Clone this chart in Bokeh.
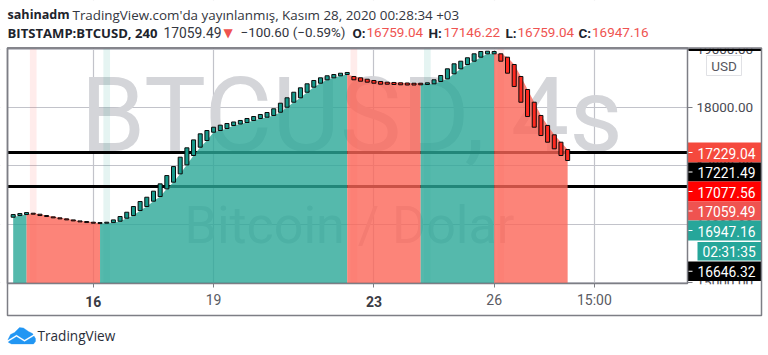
from bokeh.plotting import figure
from bokeh.models import Label, BoxAnnotation, PolyAnnotation, FixedTicker, LinearAxis, Grid
from bokeh.embed import file_html
from bokeh.resources import INLINE

# ---------- data ----------
candle_index = list(range(84))
opens = [16117,16146,16163,16186,16169,16146,16123,16106,16089,16071,16054,16043,16031,16008,16014,16025,
         16048,16100,16146,16232,16301,16393,16473,16605,16720,16863,17018,17179,17322,17437,17580,17609,
         17644,17695,17721,17747,17782,17816,17838,17868,17924,18010,18096,18172,18268,18355,18423,18482,
         18516,18551,18573,18539,18516,18492,18470,18453,18441,18436,18430,18427,18423,18423,18401,18413,
         18453,18499,18585,18671,18745,18802,18871,18929,18929,18929,18871,18745,18539,18315,18096,17868,
         17696,17535,17408,17282]
closes = [16163,16180,16197,16169,16146,16129,16106,16089,16071,16054,16037,16025,16014,16025,16031,16071,
          16129,16203,16301,16387,16461,16565,16691,16834,16989,17150,17311,17448,17552,17609,17666,17701,
          17730,17756,17782,17816,17850,17885,17919,17983,18079,18172,18268,18344,18413,18470,18516,18551,
          18573,18595,18608,18482,18458,18441,18423,18406,18406,18401,18396,18392,18392,18396,18430,18482,
          18556,18671,18757,18802,18861,18929,18969,18974,18969,18802,18596,18367,18096,17850,17666,17523,
          17408,17294,17179,17093]
area_breaks = [0, 2, 13, 50, 61, 72, 83]
area_kinds = ["up", "down", "up", "down", "up", "down"]
pale_bands = [3, 14, 51, 62, 73]
pale_kinds = ["down", "up", "down", "up", "down"]
black_levels = [17229.04, 16646.32]
price_ticks = [15000, 16000, 17000, 18000, 19000]
time_ticks = [12, 30, 54, 72, 87]
time_labels = ["16", "19", "23", "26", "15:00"]
bold_time = ["16", "23"]
price_tags = ["17229.04", "17221.49", "17077.56", "17059.49", "16947.16", "02:31:35", "16646.32"]
tag_colors = ["#f5493d", "#000000", "#ff0000", "#ef5350", "#26a69a", "#26a69a", "#000000"]
tag_tops = [142, 162, 181, 201, 220, 241.5, 261]
tag_bottoms = [162, 181, 201, 220, 240, 260, 280.5]

# ---------- layout ----------
W, H = 764, 350
XL, XR = -1.901, 112.47        # scale spans the whole canvas
YB, YT = 13823.2, 19846.7
X0, X1 = -0.85, 100.94         # chart pane
Y0, Y1 = 14976.3, 19020.6
def sx(x): return x
def sy(y): return H - y

p = figure(width=W, height=H, output_backend="svg", toolbar_location=None,
           x_range=(XL, XR), y_range=(YB, YT), x_axis_type=None, y_axis_type=None,
           min_border_left=0, min_border_right=0, min_border_top=0, min_border_bottom=0)
p.outline_line_color = None

p.add_layout(Grid(dimension=0, ticker=FixedTicker(ticks=time_ticks), grid_line_color="#c2c3ca", grid_line_width=1.2))
p.add_layout(Grid(dimension=1, ticker=FixedTicker(ticks=price_ticks), grid_line_color="#c2c3ca", grid_line_width=1.2))

xa = LinearAxis(ticker=FixedTicker(ticks=time_ticks), fixed_location=Y0, bounds=(X0, X1))
xa.major_label_overrides = {t: ("" if l in bold_time else l) for t, l in zip(time_ticks, time_labels)}
xa.major_label_text_font = "Roboto"
xa.major_label_text_font_size = "14px"
xa.major_label_text_color = "#5a5b63"
xa.major_label_standoff = 5
xa.major_tick_in = 0
xa.major_tick_out = 4
xa.minor_tick_line_color = None
xa.axis_line_color = "#7d7e85"
xa.major_tick_line_color = "#7d7e85"
p.add_layout(xa, "below")

ya = LinearAxis(ticker=FixedTicker(ticks=price_ticks), fixed_location=X1, bounds=(Y0, Y1))
ya.major_label_overrides = {t: f"{t}.00" for t in price_ticks}
ya.major_label_text_font = "Roboto"
ya.major_label_text_font_size = "13.5px"
ya.major_label_text_color = "#4a4b53"
ya.major_label_standoff = 4
ya.major_tick_in = 0
ya.major_tick_out = 5
ya.minor_tick_line_color = None
ya.axis_line_color = "#7d7e85"
ya.major_tick_line_color = "#7d7e85"
p.add_layout(ya, "right")

# watermarks
for txt, xp, yp, size, col in [("BTCUSD, 4s", 80, 115, "104px", "#d4d5d9"), ("Bitcoin / Dolar", 184, 225, "52px", "#d4d5d9")]:
    p.add_layout(Label(x=sx(xp), y=sy(yp), x_units="screen", y_units="screen", text=txt, text_font="Roboto",
                       text_font_size=size, text_color=col, text_baseline="middle", level="underlay"))

def box(l, r, t, b, fill="#ffffff", line=None, lw=1, level="annotation"):
    p.add_layout(BoxAnnotation(left=sx(l), right=sx(r), top=sy(t), bottom=sy(b),
                               left_units="screen", right_units="screen", top_units="screen", bottom_units="screen",
                               fill_color=fill if fill else "#ffffff", fill_alpha=1 if fill else 0,
                               line_color=line if line else "#ffffff", line_width=lw,
                               line_alpha=1 if line else 0, level=level))

def text(x, y, s, size="14px", font="Open Sans", color="#2a2e39", style="normal", align="left"):
    p.add_layout(Label(x=sx(x), y=sy(y), x_units="screen", y_units="screen", text=s, text_font=font,
                       text_font_size=size, text_color=color, text_font_style=style, text_align=align,
                       text_baseline="middle"))

# hide grid lines outside the chart pane
box(0, 7, 0, 350, level="glyph")
box(0, 764, 0, 47.5, level="glyph")
box(0, 764, 283, 350, level="glyph")
box(687, 764, 0, 350, level="glyph")

UP, DOWN = "#2aa797", "#fb6558"
for i, k in zip(pale_bands, pale_kinds):
    p.vbar(x=[i], top=[Y1], bottom=[Y0], width=1, line_color=None,
           fill_color=UP if k == "up" else DOWN, fill_alpha=0.12)
for lv in black_levels:
    p.line([X0, X1], [lv, lv], line_color="#000000", line_width=3)
for a, b, k in zip(area_breaks[:-1], area_breaks[1:], area_kinds):
    xs = candle_index[a:b + 1]
    p.varea(x=xs, y1=[Y0] * len(xs), y2=opens[a:b + 1], fill_color=UP if k == "up" else DOWN, fill_alpha=0.8)

up_i = [i for i in candle_index if closes[i] >= opens[i]]
dn_i = [i for i in candle_index if closes[i] < opens[i]]
p.vbar(x=up_i, bottom=[opens[i] for i in up_i], top=[closes[i] for i in up_i], width=0.6,
       fill_color="#169a8b", line_color="#0a0a0a", line_width=1)
p.vbar(x=dn_i, bottom=[closes[i] for i in dn_i], top=[opens[i] for i in dn_i], width=0.6,
       fill_color="#ff2a20", line_color="#0a0a0a", line_width=1)

# right-hand pane decorations
box(687.5, 763, 0, 47.5)
box(687.5, 763, 283.7, 314.5)
box(688, 761, 48, 50.5, fill="#000000")
box(706, 741, 55, 75, fill="#ffffff", line="#e0e1e5", lw=1)
text(723.5, 65.5, "USD", size="13.5px", font="Roboto", color="#55565e", align="center")
for s, c, t, b in zip(price_tags, tag_colors, tag_tops, tag_bottoms):
    box(697 if ":" in s else 687.5, 761, t, b, fill=c)
    text(697 if ":" not in s else 702, (t + b) / 2 + 0.5, s, font="Roboto", color="#ffffff", size="13.8px")
    if ":" not in s:
        box(688, 692, (t + b) / 2 - 0.5, (t + b) / 2 + 0.5, fill="#ffffff")

# frames
box(7, 761, 47.5, 315, fill=None, line="#7d7e85", lw=1.5)
box(7, 687, 47.5, 283, fill=None, line="#7d7e85", lw=1.5)

# bold time labels
for t, l in zip(time_ticks, time_labels):
    if l in bold_time:
        p.add_layout(Label(x=t, y=sy(300.5), y_units="screen", text=l, text_font="Roboto", text_font_size="14px",
                           text_color="#3a3b43", text_font_style="bold", text_align="center", text_baseline="middle"))

# header
text(7, 14, "sahinadm", size="12.6px", style="bold", color="#20232c")
text(72, 14, "TradingView.com'da yayınlanmış, Kasım 28, 2020 00:28:34 +03", size="13.4px", color="#333640")
text(7, 32, "BITSTAMP:BTCUSD, 240", size="13.1px", style="bold", color="#20232c")
text(163, 32, "17059.49", size="13.8px", font="Roboto", color="#333640")
text(223, 32, "▼", size="12px", font="DejaVu Sans", color="#ef5350")
text(240, 32, "−100.60 (−0.59%)", size="13.4px", font="Roboto", color="#333640")
for lab, lx, val, vx in [("O:", 352, "16759.04", 366), ("H:", 428, "17146.22", 443), ("L:", 505, "16759.04", 517), ("C:", 578, "16947.16", 591.5)]:
    text(lx, 32, lab, size="13.5px", style="bold", font="Roboto", color="#20232c")
    text(vx, 32, val, size="13.5px", font="Roboto", color="#ef5350")

# logo
BLUE = "#2196f3"
cloud_x = [7.5, 10, 14, 19, 23, 28, 32, 35, 35, 33, 11, 8]
cloud_y = [339, 334, 332, 327, 327.5, 331, 333, 338, 341, 343.5, 343.5, 342]
p.add_layout(PolyAnnotation(xs=[sx(v) for v in cloud_x], ys=[sy(v) for v in cloud_y], xs_units="screen", ys_units="screen",
                            fill_color=BLUE, fill_alpha=1, line_color=BLUE, line_width=1))
zig_x = [7, 16, 24, 34, 34, 24, 16, 7]
zig_y = [340, 334.5, 339.5, 333.5, 335, 341, 336, 341.5]
p.add_layout(PolyAnnotation(xs=[sx(v) for v in zig_x], ys=[sy(v) for v in zig_y], xs_units="screen", ys_units="screen",
                            fill_color="#ffffff", fill_alpha=1, line_color="#ffffff", line_width=0.5))
text(37, 335, "TradingView", color="#2a2e39", font="Open Sans", size="13.6px")

open("out.html", "w").write(file_html(p, INLINE))
